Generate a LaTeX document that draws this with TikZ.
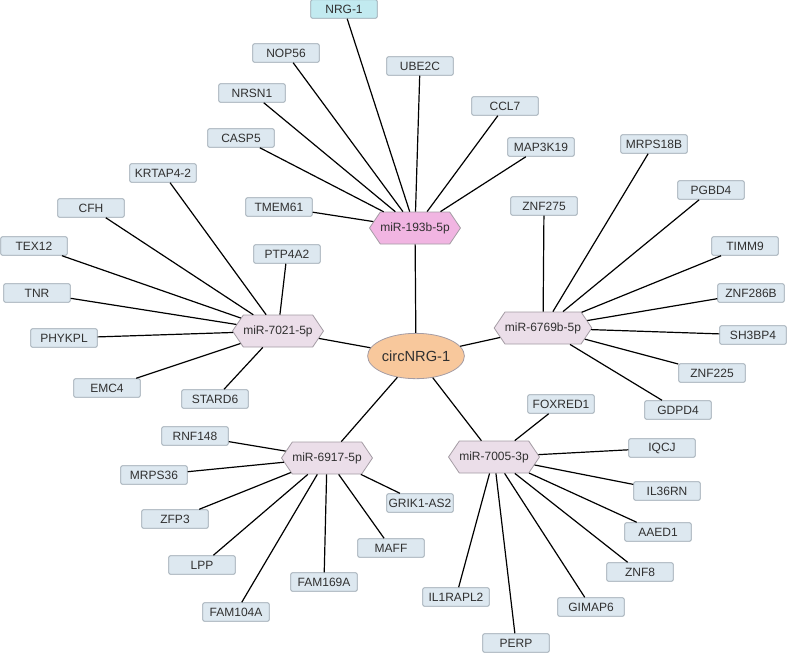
\documentclass[tikz,border=0pt]{standalone}
\usepackage{fontspec}
\setmainfont{Liberation Sans}
\usetikzlibrary{shapes.geometric,shapes.symbols}
\definecolor{genefill}{HTML}{DDE8F0}
\definecolor{geneline}{HTML}{98A4AE}
\definecolor{nrgfill}{HTML}{C2EAF0}
\definecolor{mirfill}{HTML}{EBDEE9}
\definecolor{mirline}{HTML}{A49CA4}
\definecolor{pinkfill}{HTML}{F1B5E2}
\definecolor{circfill}{HTML}{F8C89C}
\definecolor{txt}{HTML}{303030}
\tikzset{
  gene/.style={draw=geneline, fill=genefill, rounded corners=1.5pt, line width=0.6pt,
    minimum width=50pt, minimum height=14pt, inner sep=0pt, text=txt,
    font=\fontsize{9}{10}\selectfont},
  nrg/.style={gene, fill=nrgfill},
  mir/.style={draw=mirline, fill=mirfill, signal, signal to=west and east,
    signal pointer angle=112, minimum width=65pt, minimum height=24pt, inner sep=0pt,
    text=txt, font=\fontsize{9}{10}\selectfont, line width=0.6pt},
  mirpink/.style={mir, fill=pinkfill},
  circ/.style={draw=mirline, fill=circfill, ellipse, minimum width=66pt, minimum height=34pt,
    inner sep=0pt, text=txt, font=\fontsize{11}{12}\selectfont, line width=0.6pt},
  edge/.style={draw=black, line width=0.9pt}
}
\begin{document}
\begin{tikzpicture}[x=0.75pt,y=-0.75pt]
\useasboundingbox (0,0) rectangle (788,654);
% edges first (behind nodes) via background trick: draw nodes, then edges on layer
\begin{scope}[every node/.append style={}]
% hub nodes
\node[circ] (c) at (416,356) {circNRG-1};
\node[mirpink] (m1) at (415,228) {miR-193b-5p};
\node[mir] (m2) at (278,331) {miR-7021-5p};
\node[mir] (m3) at (543,328) {miR-6769b-5p};
\node[mir] (m4) at (327,458) {miR-6917-5p};
\node[mir] (m5) at (494,457) {miR-7005-3p};
% miR-193b-5p targets
\node[nrg] (nrg) at (344,9) {NRG-1};
\node[gene] (nop) at (286,53) {NOP56};
\node[gene] (ube) at (420,66) {UBE2C};
\node[gene] (nrsn) at (252,93) {NRSN1};
\node[gene] (ccl) at (505,106) {CCL7};
\node[gene] (casp) at (241,138) {CASP5};
\node[gene] (map) at (541,147) {MAP3K19};
\node[gene] (tmem) at (279,207) {TMEM61};
% miR-7021-5p targets
\node[gene] (krt) at (163,173) {KRTAP4-2};
\node[gene] (cfh) at (91,208) {CFH};
\node[gene] (tex) at (34,246) {TEX12};
\node[gene] (tnr) at (37,293) {TNR};
\node[gene] (phy) at (64,338) {PHYKPL};
\node[gene] (emc) at (107,388) {EMC4};
\node[gene] (star) at (215,399) {STARD6};
\node[gene] (ptp) at (287,254) {PTP4A2};
% miR-6769b-5p targets
\node[gene] (z275) at (544,206) {ZNF275};
\node[gene] (mrps18) at (654,144) {MRPS18B};
\node[gene] (pgb) at (711,190) {PGBD4};
\node[gene] (timm) at (745,246) {TIMM9};
\node[gene] (z286) at (751,293) {ZNF286B};
\node[gene] (sh3) at (753,335) {SH3BP4};
\node[gene] (z225) at (712,373) {ZNF225};
\node[gene] (gdp) at (678,410) {GDPD4};
% miR-6917-5p targets
\node[gene] (rnf) at (195,436) {RNF148};
\node[gene] (mrps36) at (154,475) {MRPS36};
\node[gene] (zfp) at (175,519) {ZFP3};
\node[gene] (lpp) at (202,565) {LPP};
\node[gene] (fam104) at (236,612) {FAM104A};
\node[gene] (fam169) at (324,582) {FAM169A};
\node[gene] (maff) at (391,548) {MAFF};
\node[gene] (grik) at (420,503) {GRIK1-AS2};
% miR-7005-3p targets
\node[gene] (fox) at (561,404) {FOXRED1};
\node[gene] (iqcj) at (662,448) {IQCJ};
\node[gene] (il36) at (667,491) {IL36RN};
\node[gene] (aaed) at (658,532) {AAED1};
\node[gene] (znf8) at (640,572) {ZNF8};
\node[gene] (gim) at (591,607) {GIMAP6};
\node[gene] (perp) at (516,643) {PERP};
\node[gene] (il1) at (456,597) {IL1RAPL2};
\end{scope}
% edges
\foreach \m in {m1,m2,m3,m4,m5} \draw[edge] (c) -- (\m);
\foreach \g in {nrg,nop,ube,nrsn,ccl,casp,map,tmem} \draw[edge] (m1) -- (\g);
\foreach \g in {krt,cfh,tex,tnr,phy,emc,star,ptp} \draw[edge] (m2) -- (\g);
\foreach \g in {z275,mrps18,pgb,timm,z286,sh3,z225,gdp} \draw[edge] (m3) -- (\g);
\foreach \g in {rnf,mrps36,zfp,lpp,fam104,fam169,maff,grik} \draw[edge] (m4) -- (\g);
\foreach \g in {fox,iqcj,il36,aaed,znf8,gim,perp,il1} \draw[edge] (m5) -- (\g);
\end{tikzpicture}
\end{document}
